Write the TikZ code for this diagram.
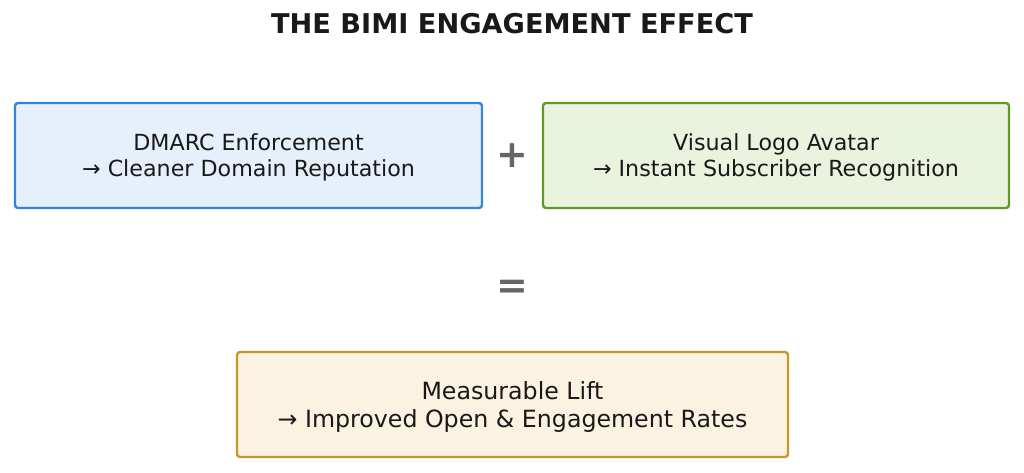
\documentclass[tikz,border=0pt]{standalone}
\usepackage{fontspec}
\setmainfont{DejaVu Sans}
\usetikzlibrary{positioning}
\definecolor{dmarcline}{HTML}{3584D8}
\definecolor{dmarcfill}{HTML}{E6F0FA}
\definecolor{logoline}{HTML}{619A22}
\definecolor{logofill}{HTML}{EAF3DE}
\definecolor{liftline}{HTML}{C9962A}
\definecolor{liftfill}{HTML}{FCF2E2}
\definecolor{opgray}{HTML}{666666}
\tikzset{ed/.style={rounded corners=3pt,line width=2.4pt,align=center,minimum height=105pt,inner sep=0pt,text depth=0pt,text=black!90,font=\fontsize{22.2}{26}\selectfont}}
\tikzset{op/.style={text=opgray,font=\fontsize{38}{38}\selectfont\bfseries}}

\begin{document}
\begin{tikzpicture}[x=1pt, y=-1pt]
        \useasboundingbox (0,0) rectangle (1024,472);
        \node[font=\fontsize{27.2}{27}\selectfont\bfseries, text=black!90] (Title) at (512, 24) {THE BIMI ENGAGEMENT EFFECT};
        \node[ed, draw=dmarcline, fill=dmarcfill, minimum width=467pt] (Dmarc) at (248.5, 155.5) {DMARC Enforcement\\→ Cleaner Domain Reputation};
        \node[ed, draw=logoline, fill=logofill, minimum width=466pt] (Logo) at (776, 155.5) {Visual Logo Avatar\\→ Instant Subscriber Recognition};
        \node[op] (Plus) at (512, 156) {+};
        \node[op] (Eq) at (512, 289) {=};
        \node[ed, draw=liftline, fill=liftfill, minimum width=551pt, font=\fontsize{23.7}{28}\selectfont] (Lift) at (512.5, 404.5) {Measurable Lift\\→ Improved Open \& Engagement Rates};
    \end{tikzpicture}
\end{document}
